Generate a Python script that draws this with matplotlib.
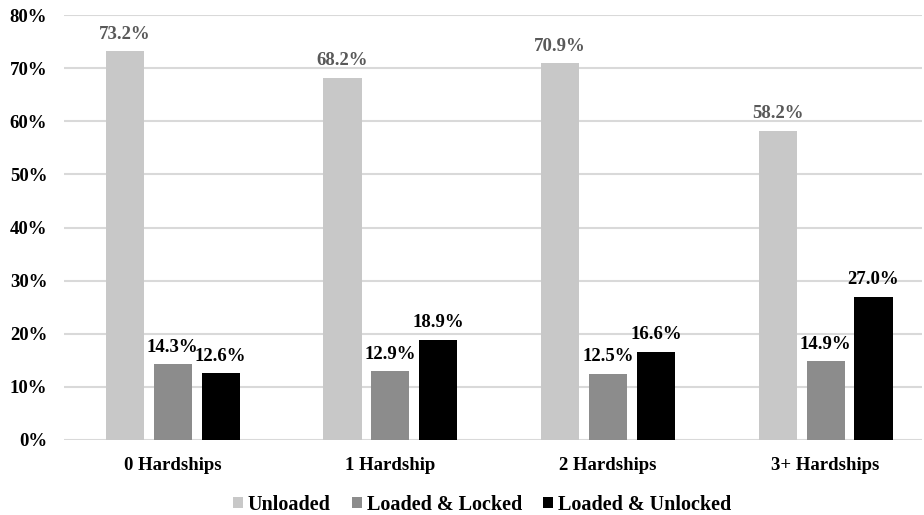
import numpy as np
import matplotlib.pyplot as plt
from matplotlib.ticker import FuncFormatter

# firearm storage by number of hardships
groups = ["0 Hardships", "1 Hardship", "2 Hardships", "3+ Hardships"]
series = ["Unloaded", "Loaded & Locked", "Loaded & Unlocked"]
unloaded = [73.2, 68.2, 70.9, 58.2]
loaded_locked = [14.3, 12.9, 12.5, 14.9]
loaded_unlocked = [12.6, 18.9, 16.6, 27.0]

colors = ["#c8c8c8", "#8c8c8c", "#000000"]
label_colors = ["#595959", "#000000", "#000000"]

plt.rcParams['font.family'] = ['Liberation Serif', 'DejaVu Serif']
plt.rcParams['font.weight'] = 'bold'

fig = plt.figure(figsize=(9.24, 5.15), dpi=100)
ax = fig.add_axes([64 / 924, 1 - 440 / 515, 858 / 924, 425 / 515])

x = np.arange(len(groups))
width = 0.175
step = 0.22
for i, (name, vals) in enumerate(zip(series, [unloaded, loaded_locked, loaded_unlocked])):
    pos = x + (i - 1) * step
    ax.bar(pos, vals, width, color=colors[i], label=name, zorder=2)
    for px, v in zip(pos, vals):
        ax.annotate(f"{v:.1f}%", (px, v), xytext=(0, 6), textcoords="offset points",
                    ha="center", va="bottom", fontsize=13.5, fontweight="bold",
                    color=label_colors[i])

ax.set_xlim(-0.5, -0.5 + 858 / 217.6)
ax.set_ylim(0, 80)
ax.set_yticks(np.arange(0, 81, 10))
ax.yaxis.set_major_formatter(FuncFormatter(lambda v, p: f"{v:.0f}%"))
ax.set_xticks(x)
ax.set_xticklabels(groups)
ax.tick_params(axis="both", length=0, labelsize=13.5)
ax.tick_params(axis="x", pad=12)
ax.tick_params(axis="y", pad=12)

ax.grid(axis="y", color="#d9d9d9", linewidth=1.5, zorder=0)
for s in ax.spines.values():
    s.set_visible(False)

fig.legend(loc="lower center", bbox_to_anchor=(482 / 924, -0.035), ncol=3, frameon=False,
           fontsize=14.5, handlelength=0.5, handleheight=0.5, handletextpad=0.25,
           columnspacing=1.05)

fig.savefig("out.png", dpi=100)
